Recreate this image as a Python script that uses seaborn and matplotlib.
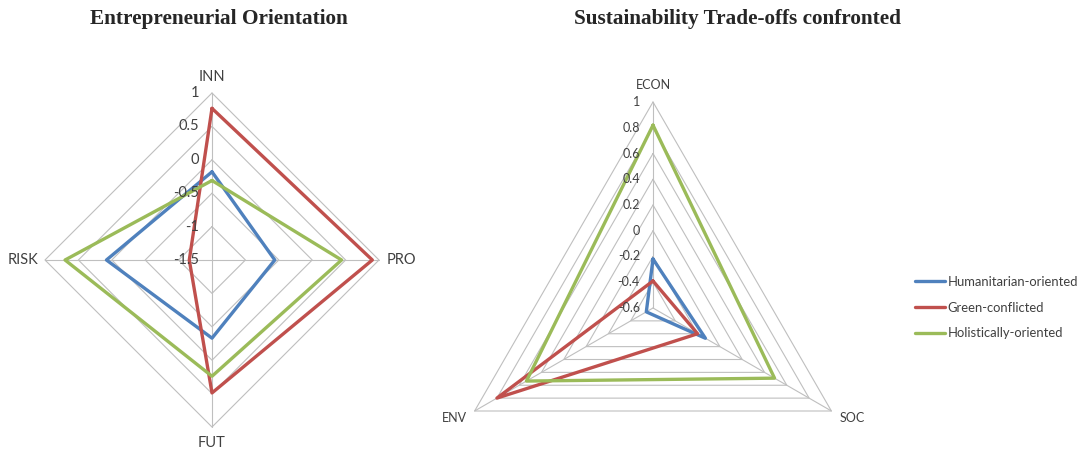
import numpy as np
import pandas as pd
import matplotlib
matplotlib.use('Agg')
import matplotlib.pyplot as plt
import seaborn as sns

# data
series = ['Humanitarian-oriented', 'Green-conflicted', 'Holistically-oriented']
colors = ['#4F81BD', '#C0504D', '#9BBB59']

eo_cats = ['INN', 'PRO', 'FUT', 'RISK']
eo_humanitarian = [-0.18, -0.56, -0.33, 0.08]
eo_green = [0.77, 0.90, 0.49, -1.16]
eo_holistic = [-0.31, 0.44, 0.24, 0.70]
eo_ticks = [-1.5, -1, -0.5, 0, 0.5, 1]
eo_ticklabels = ['-1.5', '-1', '-0.5', '0', '0.5', '1']

st_cats = ['ECON', 'SOC', 'ENV']
st_humanitarian = [-0.22, -0.13, -0.54]
st_green = [-0.39, -0.20, 0.80]
st_holistic = [0.82, 0.49, 0.535]
st_ticks = [-0.6, -0.4, -0.2, 0, 0.2, 0.4, 0.6, 0.8, 1]
st_ticklabels = ['-0.6', '-0.4', '-0.2', '0', '0.2', '0.4', '0.6', '0.8', '1']

sns.set_theme(style='white')
plt.rcParams['font.family'] = ['Lato', 'DejaVu Sans']

GRID = '#BFBFBF'


def radar(ax, cats, values, ticks, ticklabels, tick_fs, cat_fs, cat_offsets):
    n = len(cats)
    theta = np.linspace(0, 2 * np.pi, n, endpoint=False)
    closed = np.append(theta, theta[0])
    ax.set_theta_zero_location('N')
    ax.set_theta_direction(-1)
    ax.set_ylim(ticks[0], ticks[-1])
    ax.grid(False)
    ax.set_xticks([])
    ax.set_yticks([])
    ax.spines['polar'].set_visible(False)
    ax.patch.set_visible(False)

    # polygon rings and spokes
    for t in ticks[1:]:
        ax.plot(closed, [t] * (n + 1), color=GRID, lw=0.8, zorder=1, clip_on=False)
    for th in theta:
        ax.plot([th, th], [ticks[0], ticks[-1]], color=GRID, lw=0.8, zorder=1, clip_on=False)

    rows = []
    for name, vals in zip(series, values):
        v = list(vals) + [vals[0]]
        for k in range(n + 1):
            rows.append({'series': name, 'theta': closed[k], 'value': v[k]})
    df = pd.DataFrame(rows)
    sns.lineplot(data=df, x='theta', y='value', hue='series', hue_order=series,
                 palette=colors, sort=False, estimator=None, units='series',
                 lw=2.4, legend=False, ax=ax, zorder=3, clip_on=False)
    ax.set_xlabel('')
    ax.set_ylabel('')

    for t, lab in zip(ticks, ticklabels):
        ax.annotate(lab, xy=(0, t), xytext=(-13, 0), textcoords='offset pixels',
                    ha='right', va='center', fontsize=tick_fs, color='#404040')
    for th, lab, (dx, dy, ha, va) in zip(theta, cats, cat_offsets):
        ax.annotate(lab, xy=(th, ticks[-1]), xytext=(dx, dy), textcoords='offset pixels',
                    ha=ha, va=va, fontsize=cat_fs, color='#404040')


fig = plt.figure(figsize=(10.84, 4.53), dpi=100)
W, H = 1084, 453

# left radar: centre (212, 260), radius 167 px
ax1 = fig.add_axes([(212 - 167) / W, (H - 260 - 167) / H, 334 / W, 334 / H], projection='polar')
radar(ax1, eo_cats, [eo_humanitarian, eo_green, eo_holistic], eo_ticks, eo_ticklabels,
      10.5, 10.5,
      [(0, 12, 'center', 'baseline'), (8, 0, 'left', 'center'),
       (0, -9, 'center', 'top'), (-7, 0, 'right', 'center')])

# right radar: centre (653, 308), radius 206 px
ax2 = fig.add_axes([(653 - 206) / W, (H - 308 - 206) / H, 412 / W, 412 / H], projection='polar')
radar(ax2, st_cats, [st_humanitarian, st_green, st_holistic], st_ticks, st_ticklabels,
      9, 9,
      [(0, 13, 'center', 'baseline'), (8, -1, 'left', 'top'), (-8, -1, 'right', 'top')])

fig.text(219 / W, 1 - 19 / H, 'Entrepreneurial Orientation', ha='center', va='center',
         fontsize=15.3, fontweight='bold', family='Liberation Serif')
fig.text(738 / W, 1 - 19 / H, 'Sustainability Trade-offs confronted', ha='center', va='center',
         fontsize=15.3, fontweight='bold', family='Liberation Serif')

handles = ax2.lines[-3:]
fig.legend(handles, series, loc='upper left', bbox_to_anchor=(915 / W, 1 - 276 / H),
           frameon=False, fontsize=9.4, handlelength=2.3, handletextpad=0.2,
           labelspacing=1.05, borderpad=0, borderaxespad=0, labelcolor='#404040')

fig.savefig('out.png', dpi=100)
